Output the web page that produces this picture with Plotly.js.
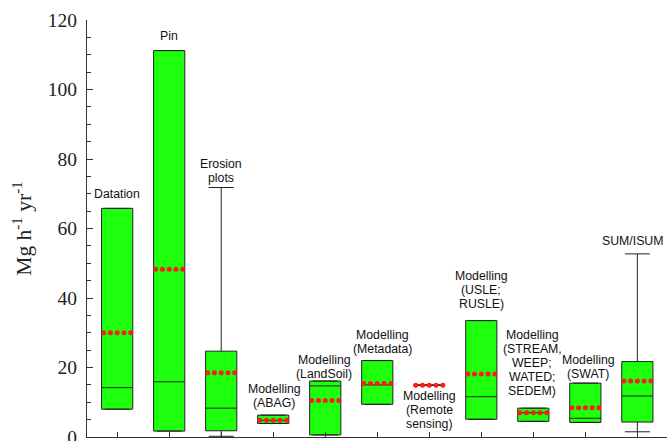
<!DOCTYPE html>
<html>
<head>
<meta charset="utf-8">
<script src="https://cdn.plot.ly/plotly-3.0.1.min.js"></script>
<style>html,body{margin:0;padding:0;background:#fff;}#chart{width:667px;height:441px;}</style>
</head>
<body>
<div id="chart"></div>
<script>
// ---- data ----
var categories = ["Datation", "Pin", "Erosion\nplots", "Modelling\n(ABAG)", "Modelling\n(LandSoil)",
  "Modelling\n(Metadata)", "Modelling\n(Remote\nsensing)", "Modelling\n(USLE;\nRUSLE)",
  "Modelling\n(STREAM,\nWEEP;\nWATED;\nSEDEM)", "Modelling\n(SWAT)", "SUM/ISUM"];
var lowerFence = [8.0, 1.7, 0.2, 3.9, 0.6, 9.4, 14.9, 5.1, 4.5, 4.2, 1.5];
var q1Values   = [8.0, 1.7, 1.8, 3.9, 0.6, 9.4, 14.9, 5.1, 4.5, 4.2, 4.3];
var medianVals = [14.2, 15.9, 8.3, 4.8, 14.7, 15.0, 14.9, 11.6, 7.0, 5.4, 11.8];
var q3Values   = [65.8, 111.2, 24.7, 6.3, 16.1, 22.0, 14.9, 33.5, 8.3, 15.5, 21.7];
var upperFence = [65.8, 111.2, 71.8, 6.3, 16.1, 22.0, 14.9, 33.5, 8.3, 15.5, 52.7];
var meanValues = [30.0, 48.3, 18.5, 4.8, 10.5, 15.4, 14.9, 18.1, 7.0, 8.4, 16.1];
var yTickVals = [0, 20, 40, 60, 80, 100, 120];

// ---- styling (not data) ----
var labelBelow = [false, false, false, false, false, false, true, false, false, false, false];
var labelGap = [14, 15, 10, 12, 7, 12, 11, 17, 17, 9, 13];   // px from anchor to nearest line centre
var labelDx = [0, 0, 0, 1, -1, 5, 0, 0, -1, 3, -4];
var lineStep = 14;
var dotOffsets = [-0.26, -0.13, 0, 0.13, 0.26];

var xIdx = categories.map(function (c, i) { return i; });

var boxTrace = {
  type: 'box',
  x: xIdx,
  q1: q1Values, median: medianVals, q3: q3Values,
  lowerfence: lowerFence, upperfence: upperFence,
  width: 0.6,
  whiskerwidth: 0.8,
  fillcolor: '#1eff0e',
  line: {color: '#222222', width: 1},
  boxpoints: false,
  hoverinfo: 'skip',
  showlegend: false
};

var dotX = [], dotY = [];
meanValues.forEach(function (m, i) {
  dotOffsets.forEach(function (o) { dotX.push(i + o); dotY.push(m); });
});
var dotTrace = {
  type: 'scatter', mode: 'markers', x: dotX, y: dotY,
  marker: {color: '#ff1a1a', size: 5},
  hoverinfo: 'skip', showlegend: false
};

var annotations = [];
categories.forEach(function (c, i) {
  var lines = c.split('\n');
  var n = lines.length;
  lines.forEach(function (ln, j) {
    var shift;
    if (labelBelow[i]) {
      shift = -(labelGap[i] + j * lineStep);
    } else {
      shift = labelGap[i] + (n - 1 - j) * lineStep;
    }
    annotations.push({
      x: i, y: labelBelow[i] ? lowerFence[i] : upperFence[i],
      xref: 'x', yref: 'y', text: ln, showarrow: false,
      xanchor: 'center', yanchor: 'middle',
      xshift: labelDx[i], yshift: shift,
      font: {family: 'Liberation Sans, Arial, sans-serif', size: 12.3, color: '#111111'}
    });
  });
});

var layout = {
  width: 667, height: 441,
  margin: {l: 87, r: 0, t: 20, b: 4, pad: 0},
  paper_bgcolor: '#ffffff', plot_bgcolor: '#ffffff',
  showlegend: false,
  xaxis: {
    range: [-0.58, 10.57], tickvals: xIdx, showticklabels: false,
    ticks: 'inside', ticklen: 5, tickcolor: '#333333', tickwidth: 1,
    showline: true, linecolor: '#333333', linewidth: 1.2,
    showgrid: false, zeroline: false
  },
  yaxis: {
    range: [0, 120], tickvals: yTickVals,
    ticks: 'inside', ticklen: 6, tickcolor: '#333333', tickwidth: 1,
    minor: {dtick: 5, ticks: 'inside', ticklen: 4, tickcolor: '#333333', showgrid: false},
    showline: true, linecolor: '#333333', linewidth: 1.2,
    showgrid: false, zeroline: false,
    ticklabelstandoff: 5,
    ticklabeloverflow: 'allow',
    tickfont: {family: 'Liberation Serif, Times New Roman, serif', size: 19.5, color: '#222222'},
    title: {text: 'Mg h<sup>-1</sup> yr<sup>-1</sup>', standoff: 10,
      font: {family: 'Liberation Serif, Times New Roman, serif', size: 21.5, color: '#222222'}}
  },
  annotations: annotations
};

Plotly.newPlot('chart', [boxTrace, dotTrace], layout, {displayModeBar: false, staticPlot: true});
</script>
</body>
</html>
